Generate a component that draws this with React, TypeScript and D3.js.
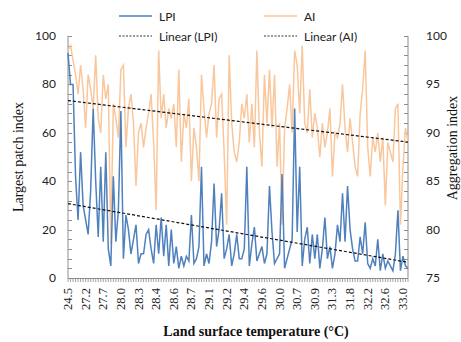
import React, { useEffect, useRef } from 'react';
import * as d3 from 'd3';

// every 7th category carries a label
const tickLabels = ['24.5', '27.2', '27.7', '28.0', '28.3', '28.4', '28.6', '28.7', '29.1', '29.2',
  '29.4', '29.6', '30.0', '30.7', '30.9', '31.3', '31.8', '32.2', '32.6', '33.0'];

const lpi = [
  93, 80, 80, 42, 24, 52, 30, 24, 18, 36,
  70, 40, 17, 46, 15, 52, 12, 5, 42, 15,
  28, 69, 8, 26, 20, 10, 16, 22, 6, 10,
  10, 18, 20, 12, 6, 22, 10, 25, 9, 22,
  5, 20, 6, 13, 4, 9, 5, 9, 7, 26,
  6, 8, 13, 46, 5, 10, 6, 15, 39, 13,
  20, 35, 8, 12, 18, 5, 10, 18, 8, 8,
  12, 46, 5, 14, 21, 7, 10, 13, 6, 10,
  38, 19, 6, 8, 10, 43, 4, 8, 12, 16,
  70, 19, 46, 5, 16, 21, 6, 18, 8, 18,
  4, 12, 25, 8, 13, 4, 10, 22, 15, 35,
  15, 38, 20, 12, 7, 7, 17, 10, 23, 6,
  4, 8, 5, 16, 3, 10, 4, 7, 5, 3,
  10, 28, 3, 9, 5, 4,
];

const ai = [
  98.5, 99, 97.5, 96, 94, 97, 94.5, 90.5, 96, 94.5,
  92.5, 98, 91.5, 90, 96, 93.5, 95, 78.5, 93, 91.5,
  89.5, 96.5, 97, 88.5, 92.5, 94, 91, 84.5, 90, 91,
  88.5, 90.5, 92, 94, 89, 82, 98.5, 91.5, 94, 90.5,
  92.5, 91.5, 93, 88.5, 96.5, 87, 92, 90.5, 93.5, 85,
  90.5, 88.5, 85, 96, 92.5, 89.5, 92, 93, 97, 89.5,
  93.5, 94, 88, 80.5, 98, 91, 88, 87, 89, 93,
  91.5, 94, 89, 93, 88.5, 98.5, 90, 86.5, 96, 91,
  96.5, 90.5, 96, 86.5, 91, 80.5, 90.5, 92.5, 95, 90,
  98.5, 97, 92, 99, 91, 90, 94.5, 89.5, 92, 90.5,
  87.5, 91, 88.5, 90, 92.5, 85.5, 90, 89.5, 91, 95,
  90.5, 88, 91.5, 89, 86.5, 85.5, 92, 94.5, 98.5, 88.5,
  85.5, 89.5, 88, 90, 87, 89.5, 82.5, 89, 88, 87,
  92.5, 93, 80.5, 86.5, 90.5, 89,
];

const leftTicks = [0, 20, 40, 60, 80, 100];
const rightTicks = [75, 80, 85, 90, 95, 100];

const sans = 'Lato, "Open Sans", sans-serif';
const serif = '"Liberation Serif", "DejaVu Serif", serif';

// least-squares line through a series, as Excel's "Linear" trendline
function fit(vals: number[]) {
  const n = vals.length;
  const mx = d3.mean(vals.map((_, i) => i)) as number;
  const my = d3.mean(vals) as number;
  let sxy = 0, sxx = 0;
  vals.forEach((v, i) => { sxy += (i - mx) * (v - my); sxx += (i - mx) * (i - mx); });
  const b = sxy / sxx;
  const a = my - b * mx;
  return [0, n - 1].map(i => ({ i, v: a + b * i }));
}

export default function App() {
  const svgRef = useRef<SVGSVGElement>(null);

  useEffect(() => {
    if (!svgRef.current) return;
    const svg = d3.select(svgRef.current);
    svg.selectAll('*').remove();

    const left = 68, right = 408, top = 36, bottom = 278;
    const n = lpi.length;
    const x = d3.scaleLinear().domain([0, n - 1]).range([left, right]);
    const yL = d3.scaleLinear().domain([0, 100]).range([bottom, top]);
    const yR = d3.scaleLinear().domain([75, 100]).range([bottom, top]);
    const axisCol = '#8c8c8c';

    // axes lines and ticks
    const g = svg.append('g');
    g.append('line').attr('x1', left).attr('x2', left).attr('y1', top).attr('y2', bottom).attr('stroke', axisCol);
    g.append('line').attr('x1', right).attr('x2', right).attr('y1', top).attr('y2', bottom).attr('stroke', axisCol);
    g.append('line').attr('x1', left).attr('x2', right).attr('y1', bottom + 0.5).attr('y2', bottom + 0.5).attr('stroke', axisCol);

    g.selectAll('.lt').data(d3.range(0, 101, 4)).enter().append('line')
      .attr('x1', left).attr('x2', left + 4)
      .attr('y1', d => Math.round(yL(d)) + 0.5).attr('y2', d => Math.round(yL(d)) + 0.5)
      .attr('stroke', axisCol);
    g.selectAll('.rt').data(d3.range(75, 101, 1)).enter().append('line')
      .attr('x1', right - 4).attr('x2', right)
      .attr('y1', d => Math.round(yR(d)) + 0.5).attr('y2', d => Math.round(yR(d)) + 0.5)
      .attr('stroke', axisCol);
    g.selectAll('.bt').data(d3.range(n)).enter().append('line')
      .attr('x1', d => x(d)).attr('x2', d => x(d))
      .attr('y1', bottom).attr('y2', bottom + 4)
      .attr('stroke', axisCol).attr('stroke-width', 0.8);

    g.selectAll('.ll').data(leftTicks).enter().append('text')
      .attr('x', 56).attr('y', d => yL(d) + 4)
      .attr('text-anchor', 'end').attr('font-family', sans).attr('font-size', 12)
      .attr('fill', '#222').text(d => d);
    g.selectAll('.rl').data(rightTicks).enter().append('text')
      .attr('x', 426).attr('y', d => yR(d) + 4)
      .attr('font-family', sans).attr('font-size', 12)
      .attr('fill', '#222').text(d => d);

    g.selectAll('.xl').data(tickLabels).enter().append('text')
      .attr('transform', (d, k) => `translate(${x(k * 7) + 4},${288}) rotate(-90)`)
      .attr('text-anchor', 'end').attr('font-family', serif).attr('font-size', 12.5)
      .attr('fill', '#222').text(d => d);

    // series
    const lineL = d3.line<number>().x((_, i) => x(i)).y(d => yL(d));
    const lineR = d3.line<number>().x((_, i) => x(i)).y(d => yR(d));
    svg.append('path').datum(ai).attr('d', lineR).attr('fill', 'none')
      .attr('stroke', '#fac79c').attr('stroke-width', 1.5);
    svg.append('path').datum(lpi).attr('d', lineL).attr('fill', 'none')
      .attr('stroke', '#4f81bd').attr('stroke-width', 1.5);

    // linear trendlines
    const tl = d3.line<{ i: number; v: number }>().x(d => x(d.i)).y(d => yL(d.v));
    const tr = d3.line<{ i: number; v: number }>().x(d => x(d.i)).y(d => yR(d.v));
    svg.append('path').attr('d', tl(fit(lpi))).attr('stroke', '#111').attr('stroke-width', 1.2)
      .attr('stroke-dasharray', '3,2').attr('fill', 'none');
    svg.append('path').attr('d', tr(fit(ai))).attr('stroke', '#111').attr('stroke-width', 1.2)
      .attr('stroke-dasharray', '3,2').attr('fill', 'none');

    // legend
    const legend = [
      { label: 'LPI', x: 119, y: 16, color: '#4f81bd', dash: null },
      { label: 'AI', x: 264, y: 16, color: '#fac79c', dash: null },
      { label: 'Linear (LPI)', x: 119, y: 36, color: '#333', dash: '2,1.5' },
      { label: 'Linear (AI)', x: 264, y: 36, color: '#333', dash: '2,1.5' },
    ];
    const lg = svg.append('g');
    legend.forEach(e => {
      lg.append('line').attr('x1', e.x).attr('x2', e.x + 33).attr('y1', e.y).attr('y2', e.y)
        .attr('stroke', e.color).attr('stroke-width', e.dash ? 1 : 1.5)
        .attr('stroke-dasharray', e.dash);
      lg.append('text').attr('x', e.x + 40).attr('y', e.y + 4.5)
        .attr('font-family', sans).attr('font-size', 12).attr('fill', '#222').text(e.label);
    });

    // titles
    svg.append('text').attr('transform', 'translate(23,157) rotate(-90)')
      .attr('text-anchor', 'middle').attr('font-family', serif).attr('font-size', 14)
      .attr('fill', '#111').text('Largest patch index');
    svg.append('text').attr('transform', 'translate(457,148) rotate(-90)')
      .attr('text-anchor', 'middle').attr('font-family', serif).attr('font-size', 14)
      .attr('fill', '#111').text('Aggregation index');
    svg.append('text').attr('x', 256).attr('y', 336)
      .attr('text-anchor', 'middle').attr('font-family', serif).attr('font-size', 14)
      .attr('font-weight', 'bold').attr('fill', '#111').text('Land surface temperature (°C)');
  }, []);

  return (
    <svg ref={svgRef} width={461} height={342}
      style={{ position: 'absolute', left: 0, top: 0, background: '#fff' }} />
  );
}
